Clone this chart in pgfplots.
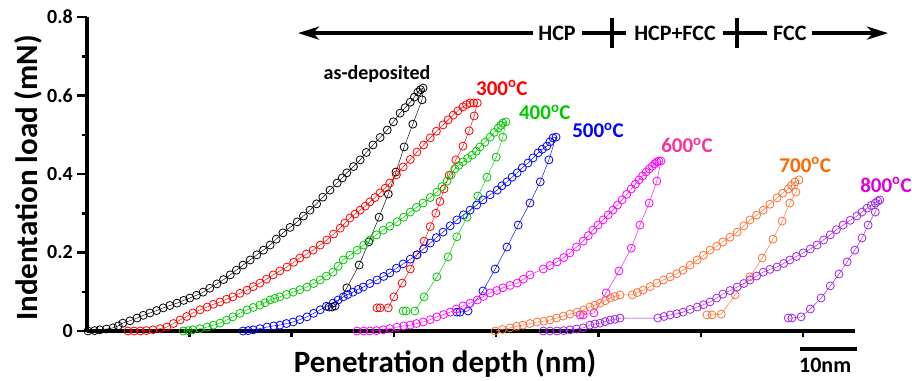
\documentclass[border=0pt]{standalone}
\usepackage{pgfplots}
\pgfplotsset{compat=1.18}
\usepackage{fontspec}
\setmainfont{Carlito}
\usetikzlibrary{arrows.meta}
\definecolor{cgreen}{RGB}{0,200,0}
\definecolor{cmag}{RGB}{255,0,255}
\definecolor{cmaglab}{RGB}{250,50,155}
\definecolor{corange}{RGB}{255,110,50}
\definecolor{corangelab}{RGB}{255,102,0}
\definecolor{cpurple}{RGB}{160,32,240}
\definecolor{cpurplelab}{RGB}{220,0,220}
\begin{document}
\begin{tikzpicture}
\begin{axis}[
  scale only axis, width=768pt, height=314pt,
  xmin=0, xmax=150.14, ymin=0, ymax=0.8,
  clip=false,
  axis x line*=bottom, axis y line*=left,
  axis line style={line width=3.5pt},
  xtick=\empty,
  ytick={0,0.2,0.4,0.6,0.8},
  minor y tick num=1,
  tick align=outside,
  major tick length=10pt, minor tick length=5pt,
  tick style={line width=2.5pt, black},
  /pgf/number format/assume math mode=true,
  yticklabel style={font=\bfseries\fontsize{20}{20}\selectfont, inner sep=2pt, xshift=-2pt},
  every axis plot/.append style={mark=o, mark size=4pt, line width=0.45pt, mark options={line width=0.8pt, solid}},
]
% black: as-deposited
\addplot[black] coordinates {
(0.2,0)(1.5,0.001)(2.5,0.003)(3.8,0.005)(5.1,0.008)(6.1,0.013)(7.0,0.020)(8.4,0.026)(9.8,0.033)(11.0,0.040)(12.3,0.046)(13.6,0.052)(14.9,0.059)(16.2,0.065)(17.6,0.071)(18.9,0.078)(20.1,0.084)(21.4,0.091)(22.7,0.099)(24.0,0.109)(25.4,0.120)(26.7,0.131)(28.0,0.143)(29.2,0.155)(30.5,0.168)(31.9,0.181)(33.2,0.194)(34.5,0.206)(35.8,0.219)(37.0,0.234)(38.3,0.250)(39.7,0.264)(41.1,0.278)(42.3,0.293)(43.6,0.308)(44.9,0.324)(46.1,0.341)(47.5,0.359)(48.9,0.377)(49.9,0.390)(50.8,0.403)(52.1,0.419)(53.4,0.436)(54.6,0.455)(55.9,0.474)(57.3,0.493)(58.7,0.512)(59.9,0.533)(61.2,0.555)(62.2,0.569)(63.2,0.583)(64.0,0.596)(64.7,0.609)(65.2,0.615)(65.7,0.619)
(65.5,0.589)(63.7,0.527)(62.0,0.469)(60.4,0.405)(58.9,0.349)(57.1,0.290)(55.1,0.227)(53.2,0.168)(50.8,0.110)(48.5,0.064)(47.9,0.061)(47.3,0.061)};
% red: 300C
\addplot[red] coordinates {
(8.0,0)(9.2,0)(10.4,0)(11.6,0.001)(12.9,0.003)(14.3,0.006)(15.6,0.010)(16.9,0.019)(18.2,0.028)(19.5,0.037)(20.7,0.046)(22.1,0.054)(23.5,0.061)(24.7,0.068)(26.0,0.074)(27.3,0.081)(28.5,0.087)(29.9,0.096)(31.3,0.104)(32.5,0.113)(33.8,0.122)(35.1,0.132)(36.4,0.143)(37.7,0.153)(39.1,0.163)(40.4,0.175)(41.6,0.186)(42.9,0.196)(44.2,0.206)(45.6,0.219)(46.9,0.232)(48.2,0.247)(49.5,0.262)(50.4,0.275)(51.4,0.288)(52.4,0.298)(53.4,0.308)(54.4,0.318)(55.3,0.329)(56.3,0.340)(57.3,0.352)(58.3,0.364)(59.2,0.377)(60.5,0.398)(61.8,0.418)(63.2,0.437)(64.5,0.456)(65.8,0.474)(67.1,0.492)(68.3,0.509)(69.6,0.525)(70.6,0.538)(71.6,0.550)(72.5,0.561)(73.5,0.571)(74.2,0.577)(74.9,0.581)(75.6,0.581)(76.3,0.581)
(75.7,0.548)(74.7,0.510)(73.5,0.471)(72.1,0.436)(70.8,0.397)(69.8,0.362)(69.0,0.330)(68.2,0.300)(67.1,0.266)(65.9,0.229)(64.5,0.194)(63.2,0.158)(61.6,0.122)(60.0,0.087)(58.9,0.059)(57.3,0.059)(56.7,0.059)};
% green: 400C
\addplot[cgreen] coordinates {
(18.8,0)(19.8,0.001)(20.7,0.003)(22.1,0.006)(23.5,0.010)(24.7,0.015)(26.0,0.020)(27.3,0.028)(28.5,0.036)(29.9,0.045)(31.3,0.054)(32.5,0.060)(33.8,0.066)(34.8,0.072)(35.8,0.079)(36.7,0.083)(37.7,0.087)(39.0,0.093)(40.3,0.099)(41.6,0.105)(43.0,0.112)(44.3,0.121)(45.6,0.130)(46.8,0.140)(48.1,0.150)(49.1,0.165)(50.1,0.181)(51.4,0.193)(52.8,0.206)(54.1,0.219)(55.3,0.232)(56.6,0.245)(57.9,0.257)(59.2,0.267)(60.6,0.278)(61.9,0.290)(63.2,0.303)(64.4,0.315)(65.7,0.326)(67.1,0.340)(68.4,0.354)(69.4,0.368)(70.4,0.382)(71.2,0.398)(71.9,0.413)(72.7,0.422)(73.5,0.431)(74.4,0.440)(75.3,0.448)(76.1,0.458)(76.8,0.469)(77.8,0.481)(78.8,0.494)(79.6,0.506)(80.4,0.517)(80.9,0.524)(81.3,0.530)(81.9,0.533)
(81.3,0.494)(80.0,0.443)(78.2,0.392)(76.4,0.344)(74.3,0.290)(72.3,0.240)(70.6,0.189)(68.4,0.138)(65.9,0.087)(64.1,0.051)(62.4,0.051)(61.8,0.051)};
% blue: 500C
\addplot[blue] coordinates {
(30.5,0)(31.5,0.001)(32.5,0.003)(33.8,0.006)(35.2,0.010)(36.5,0.013)(37.7,0.015)(39.0,0.019)(40.3,0.023)(41.6,0.029)(43.0,0.036)(44.3,0.045)(45.6,0.054)(46.8,0.063)(48.1,0.071)(49.1,0.079)(50.1,0.087)(51.0,0.093)(52.0,0.099)(53.0,0.106)(54.0,0.112)(55.3,0.121)(56.7,0.130)(58.0,0.139)(59.2,0.148)(60.5,0.160)(61.8,0.171)(63.2,0.183)(64.5,0.194)(65.8,0.209)(67.1,0.224)(68.3,0.238)(69.6,0.252)(71.0,0.268)(72.3,0.283)(73.6,0.296)(74.9,0.308)(76.2,0.321)(77.4,0.334)(78.8,0.347)(80.2,0.359)(81.1,0.370)(82.1,0.380)(83.1,0.392)(84.1,0.403)(85.1,0.416)(86.2,0.428)(87.2,0.441)(88.2,0.454)(89.0,0.463)(89.9,0.471)(90.5,0.482)(91.1,0.492)(91.7,0.494)
(90.3,0.436)(88.6,0.380)(86.6,0.326)(84.3,0.270)(82.1,0.214)(79.8,0.158)(77.4,0.102)(74.5,0.051)(72.9,0.048)(72.3,0.048)};
% magenta: 600C
\addplot[cmag] coordinates {
(52.8,0)(54.1,0)(55.3,0)(56.6,0.001)(57.9,0.003)(59.2,0.006)(60.6,0.010)(61.9,0.013)(63.2,0.015)(64.4,0.019)(65.7,0.023)(67.1,0.029)(68.4,0.036)(69.7,0.042)(71.0,0.048)(72.2,0.056)(73.5,0.064)(74.9,0.071)(76.3,0.079)(77.5,0.088)(78.8,0.097)(80.1,0.103)(81.3,0.110)(82.7,0.116)(84.1,0.122)(85.3,0.132)(86.6,0.143)(89.2,0.158)(90.5,0.167)(91.9,0.176)(93.2,0.187)(94.4,0.199)(95.7,0.214)(97.0,0.229)(98.0,0.243)(98.9,0.257)(99.9,0.270)(100.9,0.283)(101.9,0.296)(102.8,0.308)(103.7,0.321)(104.6,0.334)(105.5,0.348)(106.4,0.362)(107.2,0.374)(107.9,0.385)(108.6,0.395)(109.3,0.405)(109.9,0.413)(110.5,0.420)(111.0,0.426)(111.4,0.431)(111.8,0.433)(112.2,0.433)
(111.4,0.382)(109.9,0.326)(108.1,0.270)(106.4,0.211)(104.0,0.153)(101.5,0.097)(99.1,0.046)(97.0,0.041)(96.4,0.041)};
% orange: 700C
\addplot[corange] coordinates {
(79.8,0)(81.2,0.004)(82.7,0.008)(84.0,0.012)(85.2,0.015)(86.6,0.019)(88.0,0.023)(89.3,0.025)(90.5,0.028)(91.8,0.033)(93.1,0.038)(94.4,0.043)(95.8,0.048)(97.1,0.054)(98.3,0.061)(99.3,0.066)(100.3,0.071)(101.3,0.077)(102.3,0.084)(103.2,0.088)(104.2,0.092)(106.6,0.092)(107.6,0.098)(108.7,0.104)(110.1,0.113)(111.4,0.122)(112.7,0.130)(114.0,0.138)(115.3,0.146)(116.5,0.155)(117.9,0.168)(119.3,0.181)(120.5,0.193)(121.8,0.206)(123.1,0.216)(124.3,0.227)(125.7,0.239)(127.1,0.252)(128.4,0.268)(129.6,0.283)(130.9,0.295)(132.2,0.308)(133.5,0.323)(134.9,0.339)(136.0,0.351)(137.1,0.362)(137.7,0.371)(138.4,0.380)(139.2,0.385)
(138.6,0.354)(137.4,0.326)(135.9,0.280)(134.1,0.234)(132.0,0.186)(129.6,0.138)(126.7,0.092)(124.0,0.043)(122.2,0.041)(121.2,0.041)};
% purple: 800C
\addplot[cpurple] coordinates {
(89.2,0)(90.5,0)(91.9,0)(93.2,0.001)(94.4,0.003)(95.7,0.005)(97.0,0.008)(98.3,0.015)(99.3,0.018)(100.3,0.020)(101.3,0.024)(102.3,0.028)(103.2,0.030)(104.2,0.033)(111.6,0.033)(112.8,0.037)(114.0,0.041)(115.3,0.044)(116.5,0.048)(117.9,0.055)(119.3,0.061)(120.5,0.067)(121.8,0.074)(123.1,0.084)(124.3,0.094)(125.7,0.103)(127.1,0.112)(128.4,0.121)(129.6,0.130)(130.9,0.140)(132.2,0.150)(133.5,0.157)(134.9,0.163)(136.2,0.172)(137.4,0.181)(138.7,0.190)(140.0,0.199)(141.4,0.209)(142.7,0.219)(144.0,0.232)(145.3,0.245)(146.5,0.258)(147.8,0.270)(149.2,0.282)(150.5,0.293)(151.5,0.303)(152.5,0.313)(153.3,0.320)(154.1,0.326)(154.6,0.331)(155.0,0.334)
(154.1,0.303)(152.7,0.270)(151.5,0.237)(150.1,0.206)(148.6,0.176)(147.0,0.145)(145.3,0.115)(143.5,0.084)(141.4,0.056)(139.6,0.036)(137.8,0.033)(137.1,0.033)};
% x ticks
\draw[line width=2.5pt] (axis cs:20,0) -- ++(0,-6pt);
\draw[line width=2.5pt] (axis cs:40,0) -- ++(0,-6pt);
\draw[line width=2.5pt] (axis cs:60,0) -- ++(0,-6pt);
\draw[line width=2.5pt] (axis cs:80,0) -- ++(0,-6pt);
\draw[line width=2.5pt] (axis cs:100,0) -- ++(0,-6pt);
\draw[line width=2.5pt] (axis cs:120,0) -- ++(0,-6pt);
\draw[line width=2.5pt] (axis cs:140,0) -- ++(0,-6pt);
% scale bar
\draw[line width=3.5pt] (axis cs:139.4,-0.0459) -- (axis cs:150.5,-0.0459);
\node[anchor=base, font=\bfseries\fontsize{22}{22}\selectfont] at (axis cs:144.3,-0.107) {10nm};
% axis labels
\node[anchor=base, font=\bfseries\fontsize{31}{31}\selectfont] at (axis cs:70.0,-0.1045) {Penetration depth (nm)};
\node[rotate=90, anchor=base, font=\bfseries\fontsize{31}{31}\selectfont] at (axis cs:-9.6,0.39) {Indentation load (mN)};
% curve labels
\node[anchor=base, font=\bfseries\fontsize{20}{20}\selectfont, black] at (axis cs:56.7,0.642) {as-deposited};
\node[anchor=base, font=\bfseries\fontsize{21}{21}\selectfont, red] at (axis cs:81.1,0.601) {300\textsuperscript{o}C};
\node[anchor=base, font=\bfseries\fontsize{21}{21}\selectfont, cgreen] at (axis cs:89.5,0.538) {400\textsuperscript{o}C};
\node[anchor=base, font=\bfseries\fontsize{21}{21}\selectfont, blue] at (axis cs:99.9,0.492) {500\textsuperscript{o}C};
\node[anchor=base, font=\bfseries\fontsize{21}{21}\selectfont, cmaglab] at (axis cs:117.3,0.454) {600\textsuperscript{o}C};
\node[anchor=base, font=\bfseries\fontsize{21}{21}\selectfont, corangelab] at (axis cs:140.4,0.405) {700\textsuperscript{o}C};
\node[anchor=base, font=\bfseries\fontsize{21}{21}\selectfont, cpurplelab] at (axis cs:156.2,0.354) {800\textsuperscript{o}C};
% phase arrows
\draw[line width=3.5pt, {Stealth[length=21pt,width=13pt,inset=6pt]}-] (axis cs:41.25,0.759) -- (axis cs:87.2,0.759);
\node[inner sep=0pt, font=\bfseries\fontsize{22}{22}\selectfont] at (axis cs:91.9,0.759) {HCP};
\draw[line width=3.5pt] (axis cs:96.8,0.759) -- (axis cs:105.4,0.759);
\draw[line width=3.5pt] (axis cs:102.6,0.721) -- (axis cs:102.6,0.797);
\node[inner sep=0pt, font=\bfseries\fontsize{22}{22}\selectfont] at (axis cs:114.95,0.759) {HCP+FCC};
\draw[line width=3.5pt] (axis cs:124.3,0.759) -- (axis cs:132.9,0.759);
\draw[line width=3.5pt] (axis cs:127.1,0.721) -- (axis cs:127.1,0.797);
\node[inner sep=0pt, font=\bfseries\fontsize{22}{22}\selectfont] at (axis cs:137.4,0.759) {FCC};
\draw[line width=3.5pt, -{Stealth[length=21pt,width=13pt,inset=6pt]}] (axis cs:141.7,0.759) -- (axis cs:156.6,0.759);
\end{axis}
\pgfresetboundingbox
\path (current axis.south west) ++(-87pt,-49pt) rectangle ++(912pt,380pt);
\end{tikzpicture}
\end{document}
